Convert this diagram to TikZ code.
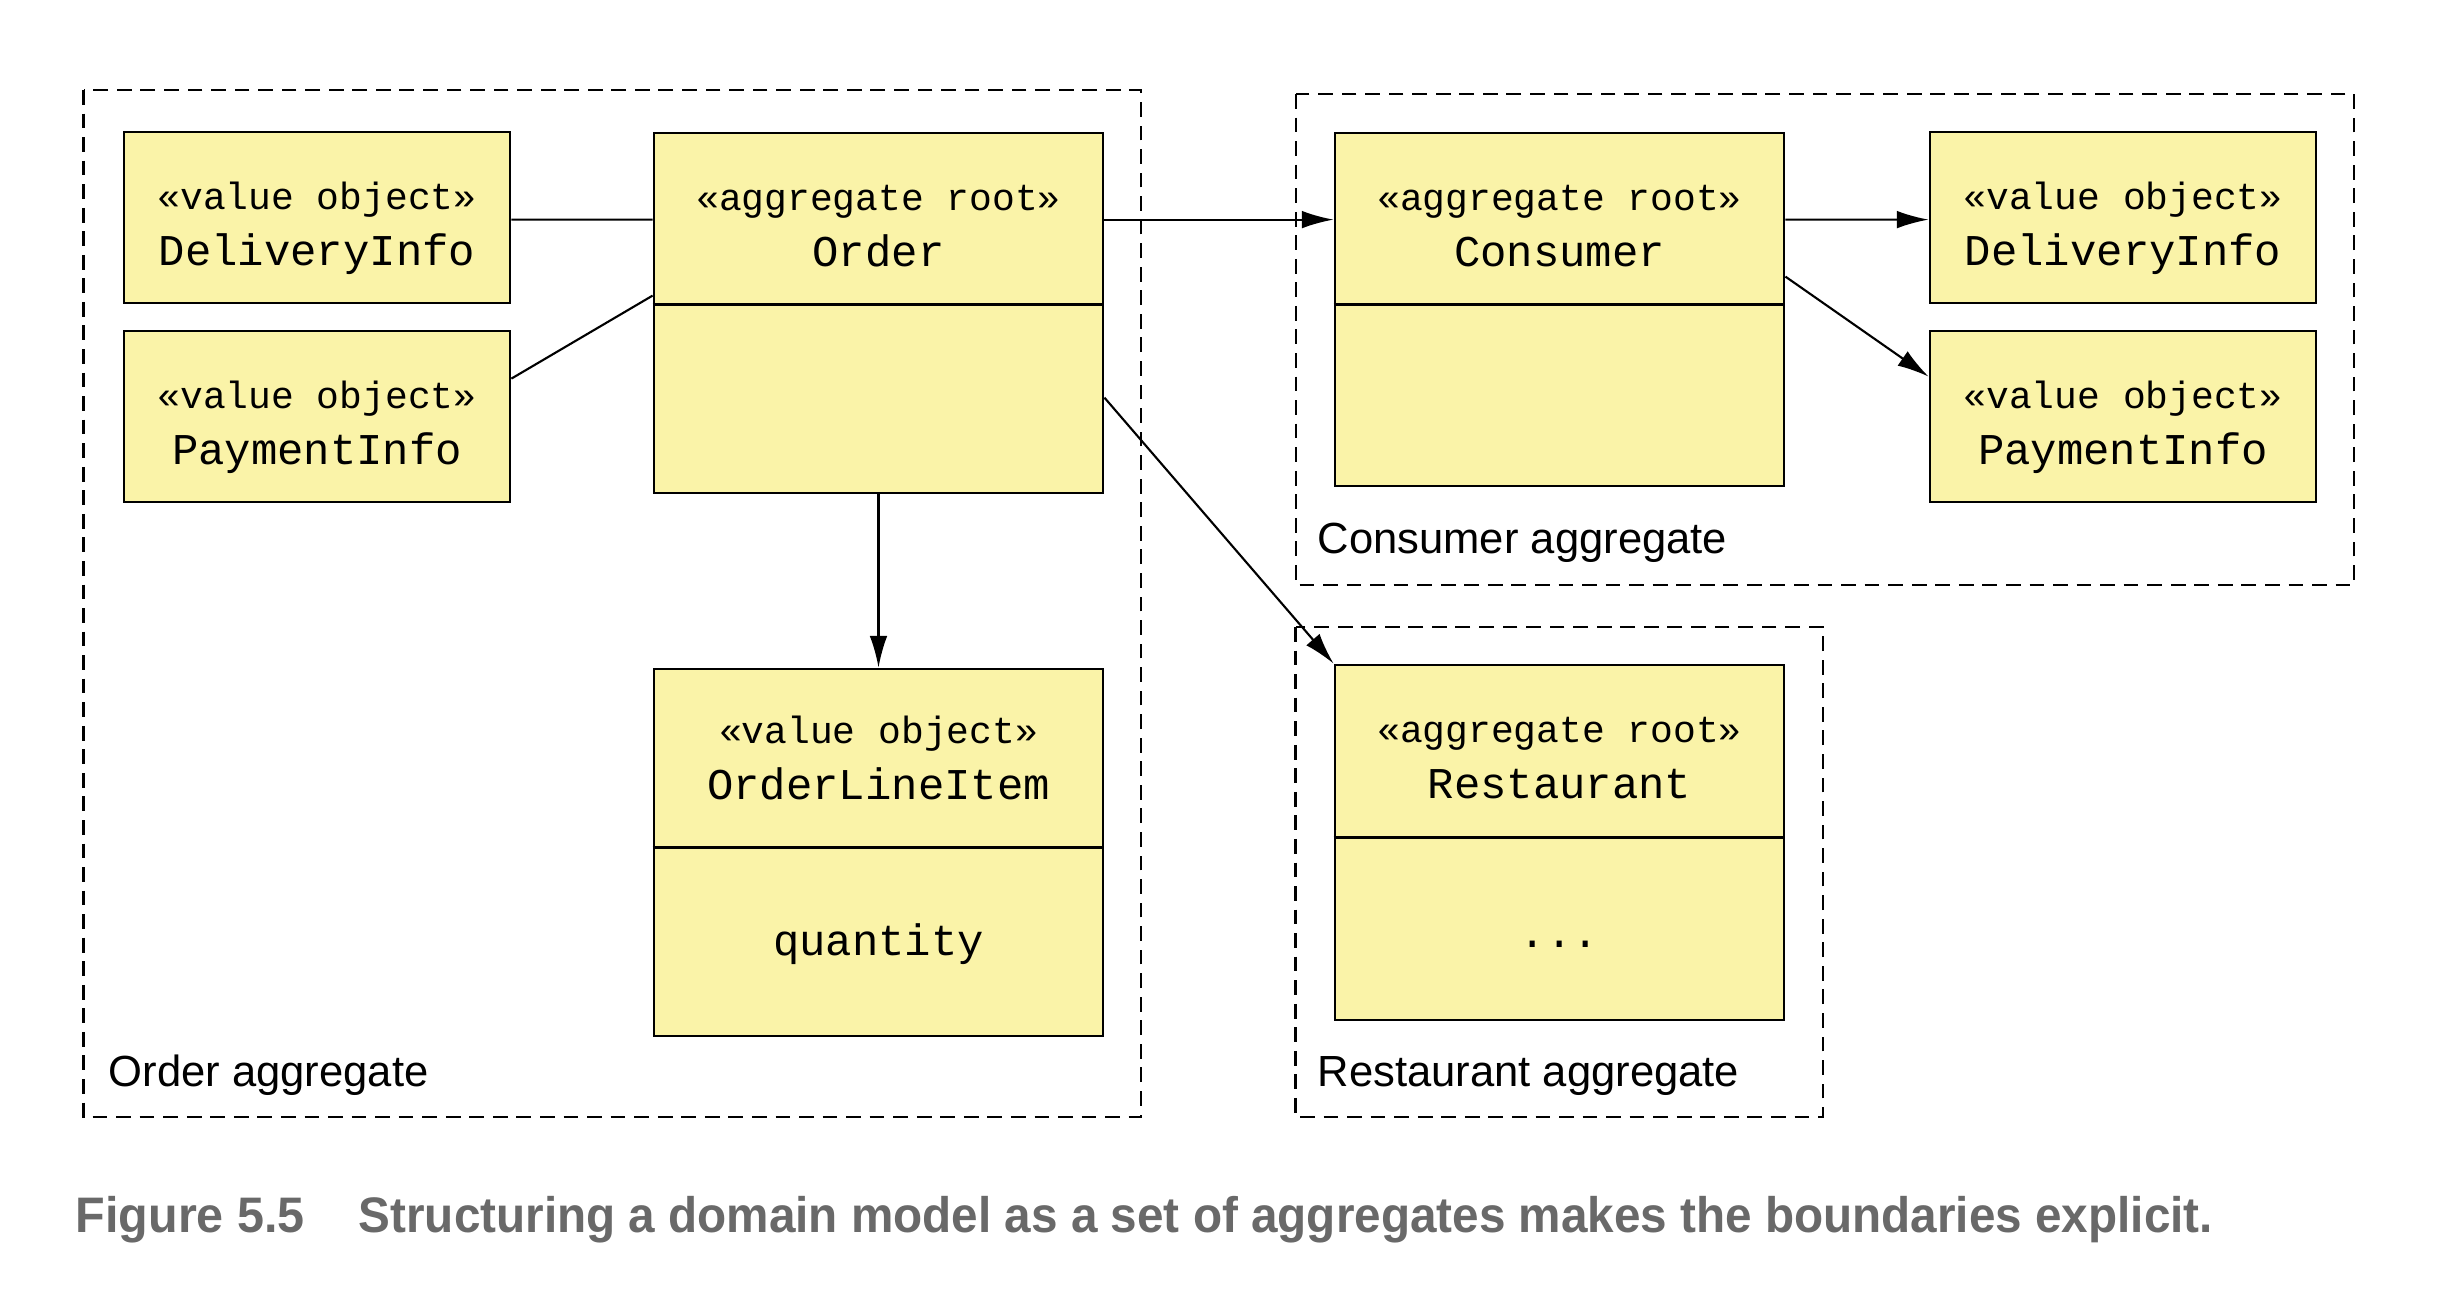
\documentclass[tikz,border=0pt]{standalone}
\usepackage{fontspec}
\setmainfont{Liberation Sans}
\newfontfamily\umlfont{Liberation Mono}
\usetikzlibrary{positioning, arrows.meta}

\definecolor{umlyellow}{RGB}{250,243,168}
\definecolor{capgray}{RGB}{105,105,105}

\tikzset{
  classbox/.style={draw, line width=0.8pt, fill=umlyellow, minimum width=4.49cm, inner sep=0pt},
  valuebox/.style={draw, line width=0.8pt, fill=umlyellow, minimum width=3.86cm, minimum height=1.71cm, inner sep=0pt},
  stereo/.style={font=\umlfont\fontsize{10.8}{12}\selectfont, anchor=base, inner sep=0pt},
  cname/.style={font=\umlfont\fontsize{12.5}{14}\selectfont, anchor=base, inner sep=0pt},
  aggframe/.style={dash pattern=on 4.2pt off 2.5pt, line width=0.6pt},
  agglabel/.style={font=\fontsize{12.4}{14}\selectfont, anchor=base west, inner sep=0pt},
  caption/.style={font=\bfseries\fontsize{14.2}{16}\selectfont, text=capgray, anchor=base west, inner sep=0pt},
  assoc/.style={line width=0.6pt},
  navarrow/.style={assoc, -{Latex[length=9pt,width=5pt]}},
}

\begin{document}
\begin{tikzpicture}
    \useasboundingbox (0,0) rectangle (24.6,-13.04);
    % aggregate boundaries
    \draw[aggframe] (0.835,-0.90) rectangle (11.41,-11.17);
    \draw[aggframe] (12.96,-0.94) rectangle (23.54,-5.85);
    \draw[aggframe] (12.955,-6.27) rectangle (18.23,-11.17);
    \node[agglabel] (orderagg) at (1.08,-10.86) {Order aggregate};
    \node[agglabel] (consumeragg) at (13.17,-5.53) {Consumer aggregate};
    \node[agglabel] (restaurantagg) at (13.17,-10.86) {Restaurant aggregate};

    % classes
    \node[valuebox] (dinfoL) at (3.17,-2.175) {};
    \node[valuebox] (pinfoL) at (3.17,-4.165) {};
    \node[valuebox] (dinfoR) at (21.23,-2.175) {};
    \node[valuebox] (pinfoR) at (21.23,-4.165) {};
    \node[classbox, minimum height=3.60cm] (order) at (8.785,-3.13) {};
    \node[classbox, minimum height=3.67cm] (item) at (8.785,-8.525) {};
    \node[classbox, minimum height=3.53cm] (consumer) at (15.595,-3.095) {};
    \node[classbox, minimum height=3.55cm] (restaurant) at (15.595,-8.425) {};

    \draw[line width=0.8pt] ([yshift=-1.73cm]order.north west) -- ([yshift=-1.73cm]order.north east);
    \draw[line width=0.8pt] ([yshift=-1.80cm]item.north west) -- ([yshift=-1.80cm]item.north east);
    \draw[line width=0.8pt] ([yshift=-1.73cm]consumer.north west) -- ([yshift=-1.73cm]consumer.north east);
    \draw[line width=0.8pt] ([yshift=-1.74cm]restaurant.north west) -- ([yshift=-1.74cm]restaurant.north east);

    \foreach \b/\s/\n in {dinfoL/value object/DeliveryInfo, pinfoL/value object/PaymentInfo,
                          dinfoR/value object/DeliveryInfo, pinfoR/value object/PaymentInfo,
                          order/aggregate root/Order, consumer/aggregate root/Consumer,
                          restaurant/aggregate root/Restaurant} {
        \node[stereo] (\b-st) at ([yshift=-0.79cm]\b.north) {«\s»};
        \node[cname] (\b-name) at ([yshift=-1.35cm]\b.north) {\n};
    }
    \node[stereo] (item-st) at ([yshift=-0.76cm]item.north) {«value object»};
    \node[cname] (item-name) at ([yshift=-1.32cm]item.north) {OrderLineItem};
    \node[cname] (item-attr) at ([yshift=-2.88cm]item.north) {quantity};
    \node[cname] (restaurant-attr) at ([yshift=-2.84cm]restaurant.north) {...};

    % associations
    \draw[assoc] ([yshift=-0.89cm]dinfoL.north east) -- ([yshift=-0.88cm]order.north west);
    \draw[assoc] ([yshift=-0.49cm]pinfoL.north east) -- ([yshift=-1.64cm]order.north west);
    \draw[navarrow] ([yshift=-0.88cm]order.north east) -- ([yshift=-0.88cm]consumer.north west);
    \draw[navarrow] (order.south) -- (item.north);
    \draw[navarrow] ([yshift=-2.66cm]order.north east) -- (restaurant.north west);
    \draw[navarrow] ([yshift=-0.88cm]consumer.north east) -- ([yshift=-0.89cm]dinfoR.north west);
    \draw[navarrow] ([yshift=-1.45cm]consumer.north east) -- ([yshift=-0.47cm]pinfoR.north west);

    % caption
    \node[caption] (capnum) at (0.75,-12.32) {\resizebox{2.29cm}{\height}{Figure 5.5}};
    \node[caption] (captext) at (3.58,-12.32) {\resizebox{18.54cm}{\height}{Structuring a domain model as a set of aggregates makes the boundaries explicit.}};
\end{tikzpicture}
\end{document}
